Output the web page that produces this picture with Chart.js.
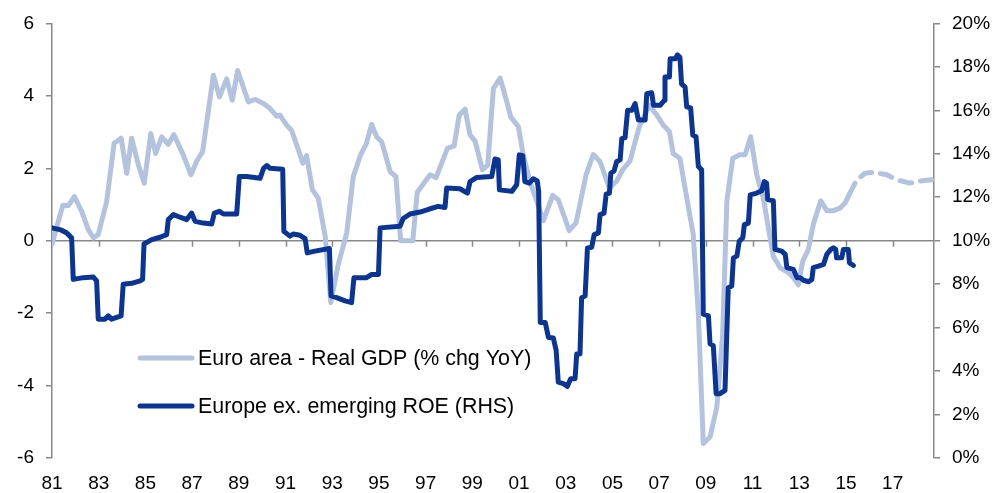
<!DOCTYPE html>
<html>
<head>
<meta charset="utf-8">
<script src="https://cdn.jsdelivr.net/npm/chart.js@4/dist/chart.umd.min.js"></script>
<style>
  body { margin: 0; background: #fff; }
  canvas { display: block; }
</style>
</head>
<body>
<canvas id="myChart" width="1005" height="493"></canvas>
<script>
// Euro area real GDP, % chg YoY (quarterly)
const gdpYears = [1981.0, 1981.46, 1981.7, 1981.96, 1982.27, 1982.55, 1982.77, 1982.98, 1983.34, 1983.66,
  1983.96, 1984.2, 1984.41, 1984.7, 1984.95, 1985.23, 1985.44, 1985.7, 1985.98, 1986.22,
  1986.62, 1986.95, 1987.2, 1987.45, 1987.91, 1988.17, 1988.48, 1988.72, 1988.95, 1989.41,
  1989.7, 1990.06, 1990.34, 1990.62, 1990.76, 1991.05, 1991.26, 1991.48, 1991.74, 1991.9,
  1992.15, 1992.4, 1992.7, 1992.94, 1993.26, 1993.62, 1993.9, 1994.22, 1994.45, 1994.69,
  1994.9, 1995.12, 1995.48, 1995.73, 1995.93, 1996.45, 1996.64, 1997.19, 1997.45, 1997.93,
  1998.22, 1998.44, 1998.69, 1998.9, 1999.12, 1999.43, 1999.66, 1999.9, 2000.19, 2000.44,
  2000.64, 2000.97, 2001.18, 2001.47, 2001.76, 2002.04, 2002.44, 2002.68, 2003.15, 2003.44,
  2003.87, 2004.18, 2004.47, 2004.87, 2005.18, 2005.44, 2005.75, 2006.15, 2006.58, 2006.9,
  2007.18, 2007.44, 2007.6, 2007.89, 2008.11, 2008.46, 2008.68, 2008.89, 2009.18, 2009.47,
  2009.72, 2009.9, 2010.15, 2010.44, 2010.68, 2010.92, 2011.18, 2011.46, 2011.68, 2011.89,
  2012.18, 2012.54, 2012.75, 2012.96, 2013.15, 2013.39, 2013.6, 2013.92, 2014.18, 2014.46,
  2014.75, 2014.96, 2015.15,
  // forecast (dashed)
  2015.46, 2015.82, 2016.17, 2016.75, 2017.17, 2017.74, 2018.17, 2018.67];
const gdpValues = [-0.09, 0.97, 0.97, 1.22, 0.81, 0.31, 0.08, 0.17, 1.08, 2.69,
  2.83, 1.86, 2.83, 2.09, 1.59, 2.96, 2.41, 2.87, 2.66, 2.93,
  2.37, 1.82, 2.2, 2.46, 4.57, 3.97, 4.47, 3.88, 4.7, 3.83,
  3.9, 3.79, 3.65, 3.44, 3.47, 3.19, 3.05, 2.64, 2.14, 2.35,
  1.41, 1.18, 0.12, -1.71, -0.65, 0.21, 1.77, 2.38, 2.66, 3.21,
  2.87, 2.73, 1.91, 1.77, 0.0, 0.0, 1.34, 1.82, 1.74, 2.55,
  2.62, 3.47, 3.63, 2.92, 2.75, 1.96, 2.09, 4.2, 4.49, 3.92,
  3.42, 3.15, 2.37, 1.63, 1.09, 0.55, 1.25, 1.13, 0.28, 0.49,
  1.82, 2.38, 2.18, 1.45, 1.65, 1.96, 2.2, 3.15, 3.74, 3.47,
  3.19, 3.01, 2.41, 2.27, 1.45, 0.17, -2.03, -5.6, -5.42, -4.59,
  -2.58, 1.09, 2.27, 2.37, 2.37, 2.87, 1.82, 1.18, 0.35, -0.43,
  -0.75, -0.88, -1.02, -1.22, -0.56, -0.24, 0.45, 1.1, 0.83, 0.83,
  0.9, 1.04, 1.29,
  1.68, 1.86, 1.89, 1.82, 1.68, 1.59, 1.65, 1.68];
const forecastFrom = 2015.15;

// Europe ex. emerging ROE, % (RHS)
const roeYears = [1981.0, 1981.34, 1981.63, 1981.84, 1981.91, 1982.34, 1982.77, 1982.91, 1982.98, 1983.27,
  1983.41, 1983.55, 1983.96, 1984.05, 1984.41, 1984.77, 1984.88, 1984.94, 1985.27, 1985.63,
  1985.91, 1985.98, 1986.2, 1986.48, 1986.77, 1986.98, 1987.13, 1987.48, 1987.84, 1987.95,
  1988.17, 1988.34, 1988.91, 1989.02, 1989.34, 1989.91, 1990.06, 1990.2, 1990.34, 1990.88,
  1990.93, 1991.19, 1991.33, 1991.62, 1991.84, 1991.93, 1992.26, 1992.88, 1992.95, 1993.19,
  1993.55, 1993.83, 1993.93, 1994.47, 1994.69, 1994.98, 1995.05, 1995.9, 1996.04, 1996.33,
  1996.76, 1997.19, 1997.54, 1997.83, 1997.9, 1998.47, 1998.79, 1998.9, 1999.19, 1999.83,
  1999.97, 2000.11, 2000.16, 2000.69, 2000.9, 2001.01, 2001.16, 2001.25, 2001.44, 2001.61,
  2001.78, 2001.84, 2001.91, 2002.12, 2002.26, 2002.47, 2002.59, 2002.68, 2002.9, 2003.07,
  2003.21, 2003.4, 2003.47, 2003.61, 2003.68, 2003.83, 2003.93, 2004.11, 2004.22, 2004.4,
  2004.47, 2004.64, 2004.73, 2004.87, 2004.93, 2005.07, 2005.18, 2005.33, 2005.4, 2005.54,
  2005.65, 2005.83, 2005.97, 2006.11, 2006.4, 2006.47, 2006.68, 2006.76, 2007.04, 2007.22,
  2007.25, 2007.44, 2007.47, 2007.7, 2007.78, 2007.89, 2007.96, 2008.11, 2008.18, 2008.35,
  2008.44, 2008.58, 2008.68, 2008.82, 2008.89, 2009.11, 2009.18, 2009.32, 2009.44, 2009.61,
  2009.82, 2009.96, 2010.11, 2010.18, 2010.33, 2010.43, 2010.58, 2010.65, 2010.82, 2010.9,
  2011.18, 2011.39, 2011.5, 2011.6, 2011.65, 2011.89, 2011.96, 2012.25, 2012.4, 2012.47,
  2012.75, 2012.9, 2013.04, 2013.18, 2013.4, 2013.54, 2013.6, 2013.82, 2014.04, 2014.18,
  2014.35, 2014.46, 2014.56, 2014.6, 2014.82, 2014.89, 2015.1, 2015.15, 2015.32];
const roeValues = [10.59, 10.51, 10.36, 10.13, 8.22, 8.3, 8.33, 8.15, 6.39, 6.39,
  6.54, 6.39, 6.54, 8.0, 8.04, 8.15, 8.22, 9.85, 10.05, 10.16,
  10.28, 10.97, 11.2, 11.08, 10.97, 11.27, 10.89, 10.81, 10.77, 11.27,
  11.35, 11.23, 11.23, 12.95, 12.95, 12.87, 13.33, 13.46, 13.33, 13.29,
  10.43, 10.21, 10.31, 10.25, 10.1, 9.44, 9.52, 9.64, 7.46, 7.38,
  7.23, 7.15, 8.3, 8.3, 8.45, 8.45, 10.59, 10.66, 11.02, 11.23,
  11.32, 11.47, 11.58, 11.53, 12.42, 12.39, 12.19, 12.72, 12.91, 12.95,
  13.76, 13.72, 12.34, 12.27, 12.57, 13.95, 13.91, 12.72, 12.65, 12.85,
  12.75, 12.27, 6.24, 6.24, 5.55, 5.52, 4.94, 3.49, 3.42, 3.3,
  3.65, 3.65, 4.79, 4.79, 7.38, 7.46, 9.67, 9.7, 10.28, 10.36,
  11.2, 11.27, 12.14, 12.19, 13.1, 13.21, 13.64, 13.72, 14.7, 14.74,
  16.0, 16.0, 16.31, 15.55, 15.55, 16.76, 16.81, 16.23, 16.23, 16.46,
  17.53, 17.53, 18.37, 18.37, 18.55, 18.44, 17.22, 17.07, 16.16, 16.11,
  14.86, 14.78, 13.41, 13.26, 6.62, 6.54, 5.25, 5.17, 2.96, 2.96,
  3.11, 7.84, 7.92, 9.21, 9.29, 9.98, 10.13, 10.74, 10.81, 12.11,
  12.19, 12.3, 12.72, 12.65, 11.89, 11.84, 9.6, 9.52, 9.37, 8.76,
  8.68, 8.3, 8.3, 8.18, 8.11, 8.22, 8.76, 8.83, 8.91, 9.37,
  9.6, 9.67, 9.6, 9.21, 9.21, 9.6, 9.6, 8.98, 8.86];

// axis ticks
const xTickYears = [1981, 1983, 1985, 1987, 1989, 1991, 1993, 1995, 1997, 1999,
  2001, 2003, 2005, 2007, 2009, 2011, 2013, 2015, 2017];
const leftTicks = [-6, -4, -2, 0, 2, 4, 6];
const rightTicks = [0, 2, 4, 6, 8, 10, 12, 14, 16, 18, 20];

const legendLabels = ["Euro area - Real GDP (% chg YoY)", "Europe ex. emerging ROE (RHS)"];

const lightBlue = "#B3C2DE";
const darkBlue = "#0B3594";
const axisGray = "#888888";
const FONT = "'Liberation Sans', Arial, sans-serif";

const gdpData = gdpYears.map((x, i) => ({ x, y: gdpValues[i] }));
const roeData = roeYears.map((x, i) => ({ x, y: roeValues[i] }));

// tick marks on the zero line + legend
const extrasPlugin = {
  id: "extras",
  beforeDatasetsDraw(chart) {
    const { ctx, scales: { x, y } } = chart;
    const y0 = y.getPixelForValue(0);
    ctx.save();
    ctx.strokeStyle = axisGray;
    ctx.lineWidth = 1.5;
    xTickYears.forEach((yr) => {
      if (yr === 1981) return;
      const px = Math.round(x.getPixelForValue(yr)) + 0.5;
      ctx.beginPath();
      ctx.moveTo(px, y0);
      ctx.lineTo(px, y0 + 6);
      ctx.stroke();
    });
    ctx.restore();
  },
  afterDraw(chart) {
    const { ctx } = chart;
    const rows = [
      { color: lightBlue, width: 5, y: 358 },
      { color: darkBlue, width: 5, y: 406 },
    ];
    ctx.save();
    rows.forEach((r, i) => {
      ctx.strokeStyle = r.color;
      ctx.lineWidth = r.width;
      ctx.lineCap = "round";
      ctx.beginPath();
      ctx.moveTo(140, r.y);
      ctx.lineTo(192, r.y);
      ctx.stroke();
      ctx.fillStyle = "#000";
      ctx.font = "21.4px " + FONT;
      ctx.textBaseline = "middle";
      ctx.textAlign = "left";
      ctx.fillText(legendLabels[i], 198, r.y + 1);
    });
    ctx.restore();
  },
};

new Chart(document.getElementById("myChart"), {
  type: "line",
  data: {
    datasets: [
      {
        label: legendLabels[1],
        data: roeData,
        yAxisID: "y1",
        borderColor: darkBlue,
        borderWidth: 5,
        pointRadius: 0,
        tension: 0,
        borderJoinStyle: "round",
        borderCapStyle: "round",
        order: 0,
      },
      {
        label: legendLabels[0],
        data: gdpData,
        yAxisID: "y",
        borderColor: lightBlue,
        borderWidth: 5,
        pointRadius: 0,
        tension: 0,
        borderJoinStyle: "round",
        borderCapStyle: "round",
        segment: {
          borderDash: (c) => (c.p0.parsed.x >= forecastFrom ? [12, 9] : undefined),
        },
        order: 1,
      },
    ],
  },
  options: {
    responsive: false,
    animation: false,
    layout: { padding: { top: 21, left: 0, right: 0, bottom: 0 } },
    plugins: { legend: { display: false }, tooltip: { enabled: false } },
    scales: {
      x: {
        type: "linear",
        min: 1981,
        max: 2018.77,
        afterBuildTicks: (axis) => {
          axis.ticks = xTickYears.map((v) => ({ value: v }));
        },
        afterFit: (axis) => { axis.height = 35; },
        grid: { display: false, drawTicks: false },
        border: { display: false },
        ticks: {
          color: "#000",
          font: { family: FONT, size: 19 },
          padding: 14,
          maxRotation: 0,
          autoSkip: false,
          callback: (v) => String(v % 100).padStart(2, "0"),
        },
      },
      y: {
        position: "left",
        min: -6,
        max: 6,
        afterBuildTicks: (axis) => {
          axis.ticks = leftTicks.map((v) => ({ value: v }));
        },
        afterFit: (axis) => { axis.width = 52; },
        border: { display: true, color: axisGray, width: 1.5 },
        grid: {
          color: (c) => (c.tick && c.tick.value === 0 ? axisGray : "transparent"),
          lineWidth: 1.5,
          tickColor: axisGray,
          tickLength: 6,
        },
        ticks: {
          color: "#000",
          font: { family: FONT, size: 19 },
          padding: 12,
        },
      },
      y1: {
        position: "right",
        min: 0,
        max: 20,
        afterBuildTicks: (axis) => {
          axis.ticks = rightTicks.map((v) => ({ value: v }));
        },
        afterFit: (axis) => { axis.width = 71; },
        border: { display: true, color: axisGray, width: 1.5 },
        grid: {
          drawOnChartArea: false,
          color: axisGray,
          tickColor: axisGray,
          tickLength: 6,
          lineWidth: 1.5,
        },
        ticks: {
          color: "#000",
          font: { family: FONT, size: 19 },
          padding: 12,
          callback: (v) => v + "%",
        },
      },
    },
  },
  plugins: [extrasPlugin],
});
</script>
</body>
</html>
